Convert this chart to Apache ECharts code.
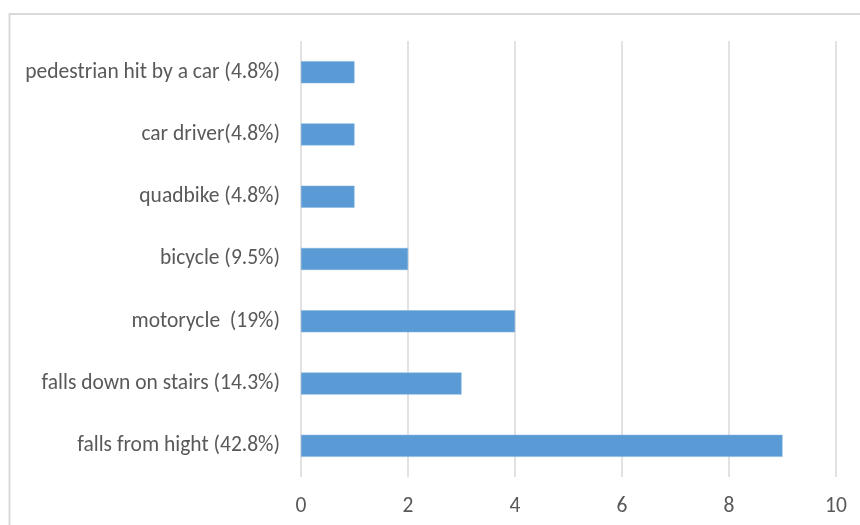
<!DOCTYPE html>
<html>
<head>
<meta charset="utf-8">
<script src="https://cdn.jsdelivr.net/npm/echarts@6/dist/echarts.min.js"></script>
<style>
html,body{margin:0;padding:0;background:#fff;}
#chart{width:860px;height:525px;}
</style>
</head>
<body>
<div id="chart"></div>
<script>
var categories = [
  'falls from hight (42.8%)',
  'falls down on stairs (14.3%)',
  'motorycle  (19%)',
  'bicycle (9.5%)',
  'quadbike (4.8%)',
  'car driver(4.8%)',
  'pedestrian hit by a car (4.8%)'
];
var values = [9, 3, 4, 2, 1, 1, 1];
var tickMin = 0, tickMax = 10, tickStep = 2;

var chart = echarts.init(document.getElementById('chart'));
var font = "Carlito, Calibri, 'Open Sans', 'Noto Sans', sans-serif";
chart.setOption({
  animation: false,
  graphic: [{
    type: 'rect',
    shape: {x: 9.5, y: 14, width: 900, height: 600},
    style: {fill: 'none', stroke: '#d9d9d9', lineWidth: 2},
    silent: true
  }],
  grid: {left: 301, right: 24, top: 41, bottom: 48, containLabel: false},
  xAxis: {
    type: 'value', min: tickMin, max: tickMax, interval: tickStep,
    axisLine: {show: false}, axisTick: {show: false},
    splitLine: {show: true, lineStyle: {color: '#d9d9d9', width: 1.5}},
    axisLabel: {color: '#595959', fontSize: 21.5, fontFamily: font, margin: 19}
  },
  yAxis: {
    type: 'category', data: categories,
    axisLine: {show: false}, axisTick: {show: false},
    axisLabel: {color: '#595959', fontSize: 21.5, fontFamily: font, margin: 21}
  },
  series: [{
    type: 'bar', data: values, barWidth: 22,
    itemStyle: {color: '#5b9bd5', borderColor: '#7fb1df', borderWidth: 0.5}
  }]
});
</script>
</body>
</html>
